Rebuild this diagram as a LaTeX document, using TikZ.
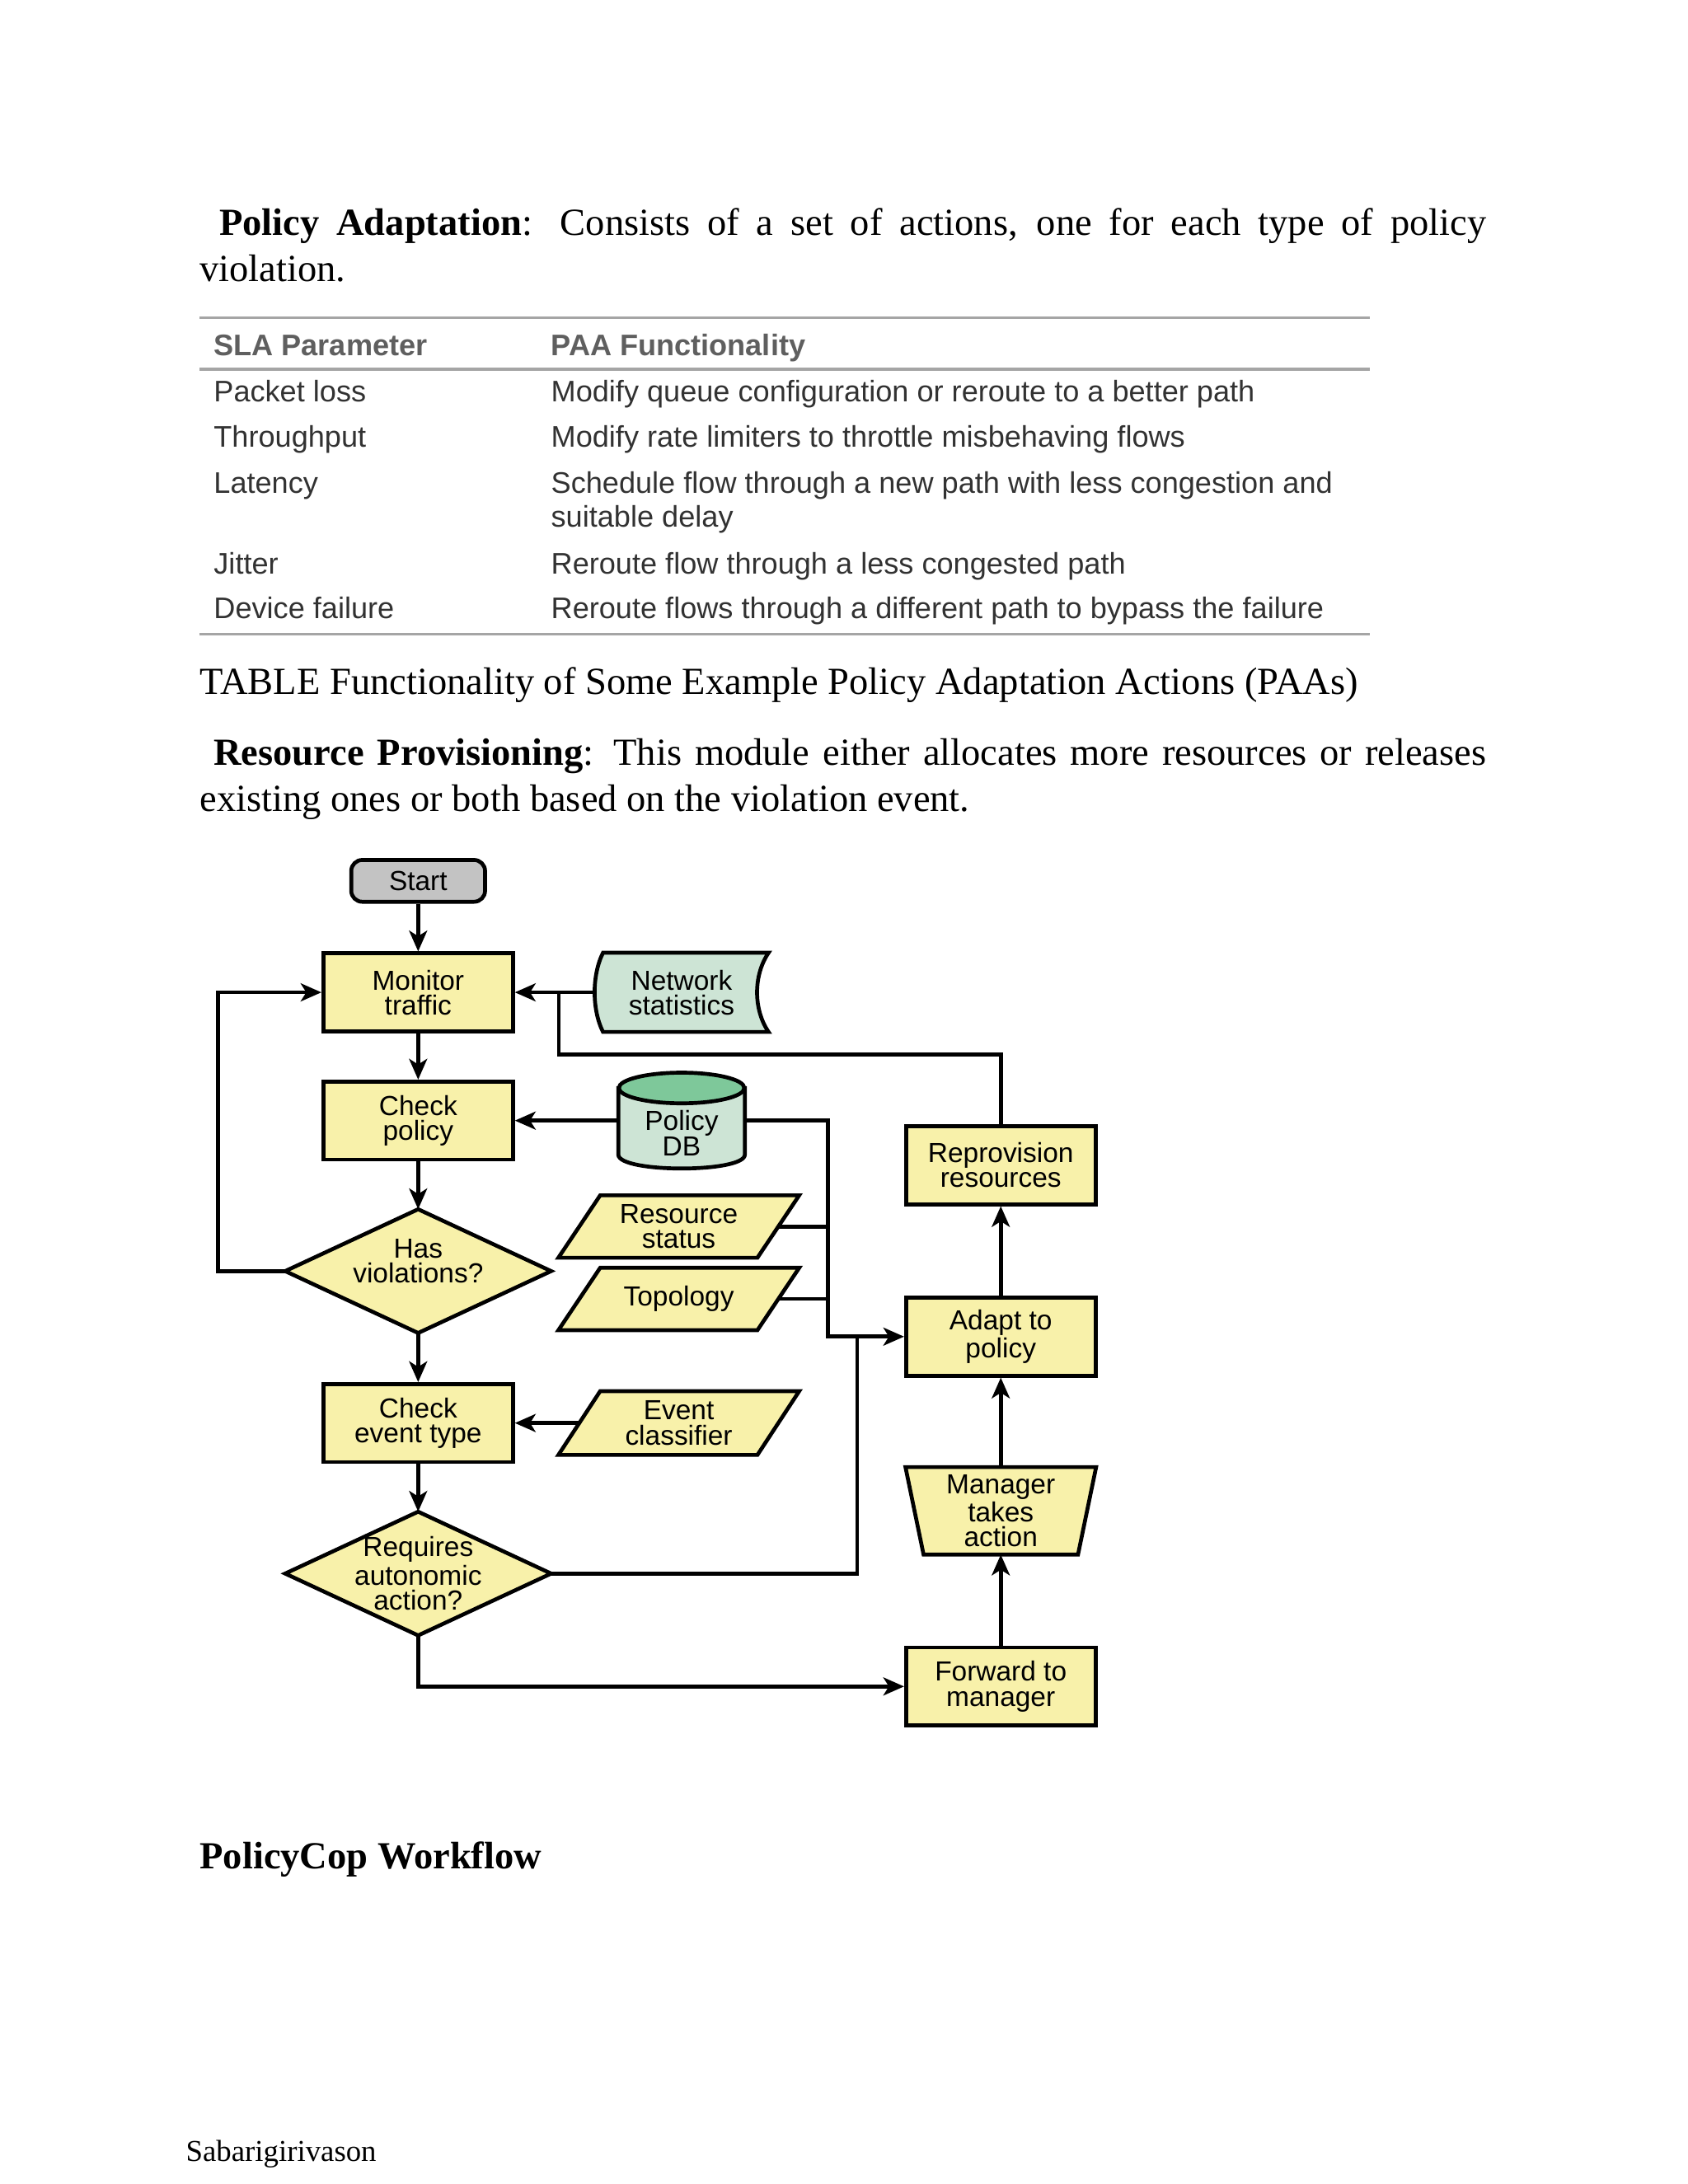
\documentclass[tikz,border=0pt]{standalone}
\usepackage{fontspec}
\setmainfont{Liberation Serif}
\setsansfont{Liberation Sans}
\usetikzlibrary{arrows.meta,calc,backgrounds}
\definecolor{fyellow}{RGB}{248,241,170}
\definecolor{fgreen}{RGB}{205,228,213}
\definecolor{dgreen}{RGB}{126,200,154}
\definecolor{fgrey}{RGB}{195,195,195}
\definecolor{tabtext}{RGB}{50,50,50}
\definecolor{tabhead}{RGB}{95,95,95}
\definecolor{tabrule}{RGB}{165,165,165}
\newcommand\pxu{0.5054pt}
\tikzset{
  body/.style={anchor=base west, inner sep=0pt, font=\fontsize{13.9}{16}\selectfont},
  foot/.style={anchor=base west, inner sep=0pt, font=\fontsize{11}{13}\selectfont},
  tabtxt/.style={anchor=base west, inner sep=0pt, text=tabtext, font=\sffamily\fontsize{10.8}{12}\selectfont},
  tabhd/.style={anchor=base west, inner sep=0pt, text=tabhead, font=\sffamily\bfseries\fontsize{10.8}{12}\selectfont},
  tabline/.style={draw=tabrule, line width=1pt},
  flow/.style={font=\sffamily\fontsize{10}{9}\selectfont, align=center, inner sep=0pt, text=black},
  box/.style={flow, draw, line width=1.4pt, fill=fyellow, minimum width=136*\pxu, minimum height=56*\pxu},
  shapeline/.style={draw, line width=1.4pt, line join=miter},
  conn/.style={line width=1.4pt},
  arr/.style={conn, -{Stealth[length=7.5pt,width=6.5pt,inset=2pt]}},
}
\begin{document}
\begin{tikzpicture}[x=0.5054pt,y=-0.5054pt]
\useasboundingbox (0,0) rectangle (1211,1567);

% ---------- body text ----------
\node[body] (t1) at (157,169) {\makebox[459.4pt][s]{\textbf{Policy Adaptation}: Consists of a set of actions, one for each type of policy}};
\node[body] (t2) at (143,202) {violation.};

% ---------- table ----------
\draw[tabline] (143,228) -- (983,228);
\draw[tabline] (143,265) -- (983,265);
\draw[tabline] (143,455) -- (983,455);
\node[tabhd] (h1) at (153,255) {SLA Parameter};
\node[tabhd] (h2) at (395,255) {PAA Functionality};
\node[tabtxt] (r1a) at (153,288) {Packet loss};
\node[tabtxt] (r1b) at (395,288) {Modify queue configuration or reroute to a better path};
\node[tabtxt] (r2a) at (153,321) {Throughput};
\node[tabtxt] (r2b) at (395,321) {Modify rate limiters to throttle misbehaving flows};
\node[tabtxt] (r3a) at (153,354) {Latency};
\node[tabtxt] (r3b) at (395,354) {Schedule flow through a new path with less congestion and};
\node[tabtxt] (r3c) at (395,378) {suitable delay};
\node[tabtxt] (r4a) at (153,412) {Jitter};
\node[tabtxt] (r4b) at (395,412) {Reroute flow through a less congested path};
\node[tabtxt] (r5a) at (153,444) {Device failure};
\node[tabtxt] (r5b) at (395,444) {Reroute flows through a different path to bypass the failure};

\node[body] (cap) at (143,498) {TABLE Functionality of Some Example Policy Adaptation Actions (PAAs)};
\node[body] (t3) at (153,549) {\makebox[461.4pt][s]{\textbf{Resource Provisioning}: This module either allocates more resources or releases}};
\node[body] (t4) at (143,582) {existing ones or both based on the violation event.};

% ---------- flowchart nodes ----------
\node[flow, draw, line width=1.4pt, fill=fgrey, rounded corners=4pt, minimum width=96*\pxu, minimum height=30*\pxu] (start) at (300,632) {Start};
\node[box] (mon) at (300,712) {Monitor\\traffic};
\node[flow, minimum width=124*\pxu, minimum height=56*\pxu] (netst) at (489,712) {Network\\statistics};
\node[box] (chk) at (300,804) {Check\\policy};
\node[flow, minimum width=90*\pxu, minimum height=68*\pxu] (db) at (489,804) {};
\node[flow] (dbtxt) at (489,813) {Policy\\DB};
\node[flow, minimum width=190*\pxu, minimum height=88*\pxu] (hasv) at (300,912) {};
\node[flow] (hasvtxt) at (300,905) {Has\\violations?};
\node[flow, minimum width=142*\pxu, minimum height=44*\pxu] (rs) at (487,880) {Resource\\status};
\node[flow, minimum width=142*\pxu, minimum height=44*\pxu] (topo) at (487,932) {Topology};
\node[box] (cet) at (300,1021) {Check\\event type};
\node[flow, minimum width=142*\pxu, minimum height=45*\pxu] (ec) at (487,1021) {Event\\classifier};
\node[flow, minimum width=190*\pxu, minimum height=88*\pxu] (req) at (300,1129) {Requires\\autonomic\\action?};
\node[box] (repro) at (718,836) {Reprovision\\resources};
\node[box] (adapt) at (718,959) {Adapt to\\policy};
\node[flow, minimum width=136*\pxu, minimum height=62*\pxu] (mgr) at (718,1084) {Manager\\takes\\action};
\node[box] (fwd) at (718,1210) {Forward to\\manager};

% ---------- custom shapes ----------
\begin{scope}[on background layer]
  % stored data
  \draw[shapeline, fill=fgreen] ($(netst.north west)+(6,0)$) -- (netst.north east)
     .. controls ($(netst.north east)+(-11,16)$) and ($(netst.south east)+(-11,-16)$) .. (netst.south east)
     -- ($(netst.south west)+(6,0)$)
     .. controls ($(netst.south west)+(-2,-16)$) and ($(netst.north west)+(-2,16)$) .. cycle;
  % cylinder
  \draw[shapeline, fill=fgreen] ($(db.north west)+(0,11)$) -- ($(db.south west)+(0,-10)$)
     .. controls ($(db.south west)+(0,3.3)$) and ($(db.south east)+(0,3.3)$) .. ($(db.south east)+(0,-10)$)
     -- ($(db.north east)+(0,11)$) -- cycle;
  \draw[shapeline, fill=dgreen] ($(db.north)+(0,11)$) ellipse [x radius=45*\pxu, y radius=11*\pxu];
  % diamonds
  \draw[shapeline, fill=fyellow] (hasv.north) -- (hasv.east) -- (hasv.south) -- (hasv.west) -- cycle;
  \draw[shapeline, fill=fyellow] (req.north) -- (req.east) -- (req.south) -- (req.west) -- cycle;
  % parallelograms
  \foreach \p in {rs,topo,ec}{
    \draw[shapeline, fill=fyellow] ($(\p.north west)+(15,0)$) -- ($(\p.north east)+(15,0)$)
       -- ($(\p.south east)+(-15,0)$) -- ($(\p.south west)+(-15,0)$) -- cycle;
  }
  % trapezoid
  \draw[shapeline, fill=fyellow] (mgr.north west) -- (mgr.north east)
     -- ($(mgr.south east)+(-13,0)$) -- ($(mgr.south west)+(13,0)$) -- cycle;
\end{scope}

% ---------- connectors ----------
\coordinate (j1) at (401,712);
\coordinate (bx) at (594,959);
\coordinate (bx2) at (615,959);
\draw[arr] (start) -- (mon);
\draw[arr] (mon) -- (chk);
\draw[arr] (chk) -- (hasv);
\draw[arr] (hasv) -- (cet);
\draw[arr] (cet) -- (req);
\draw[arr] (hasv.west) -- ++(-48,0) |- (mon.west);
\draw[arr] (netst.west) -- (mon.east);
\draw[conn] (repro.north) -- ++(0,-50) -| (j1);
\draw[arr] (db.west) -- (chk.east);
\draw[arr] (db.east) -| (bx) -- (adapt.west);
\draw[conn] (rs.east) -- (rs.east -| bx);
\draw[conn] (topo.east) -- (topo.east -| bx);
\draw[arr] (ec.west) -- (cet.east);
\draw[conn] (req.east) -| (bx2);
\draw[arr] (req.south) |- (fwd.west);
\draw[arr] (fwd) -- (mgr);
\draw[arr] (mgr) -- (adapt);
\draw[arr] (adapt) -- (repro);

% ---------- bottom text ----------
\node[body, font=\bfseries\fontsize{13.9}{16}\selectfont] (t5) at (143,1341) {PolicyCop Workflow};
\node[foot] (t6) at (133,1551) {Sabarigirivason};
\end{tikzpicture}
\end{document}
